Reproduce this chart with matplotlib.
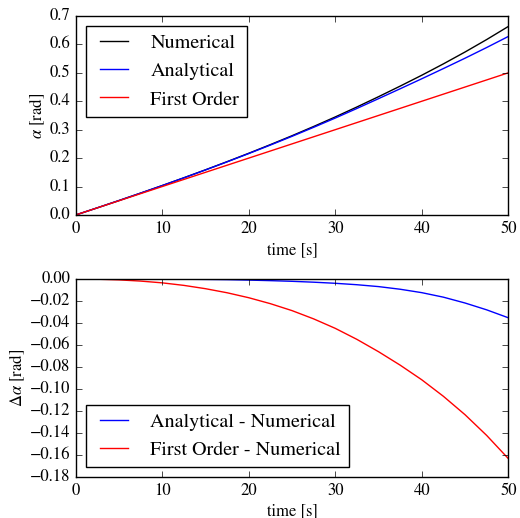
import matplotlib
matplotlib.use('Agg')
import matplotlib.pyplot as plt

plt.style.use('classic')
plt.rcParams['font.family'] = 'STIXGeneral'
plt.rcParams['mathtext.fontset'] = 'stix'

time = [0, 2.5, 5, 7.5, 10, 12.5, 15, 17.5, 20, 22.5, 25,
        27.5, 30, 32.5, 35, 37.5, 40, 42.5, 45, 47.5, 50]

numerical = [0.0, 0.0252, 0.0508, 0.0769, 0.1035, 0.1308, 0.1588, 0.1875,
             0.2170, 0.2474, 0.2787, 0.3112, 0.3448, 0.3798, 0.4160, 0.4532,
             0.4915, 0.5315, 0.5732, 0.6170, 0.6630]
analytical = [0.0, 0.0252, 0.0508, 0.0769, 0.1034, 0.1306, 0.1584, 0.1869,
              0.2160, 0.2459, 0.2766, 0.3083, 0.3409, 0.3746, 0.4091, 0.4439,
              0.4791, 0.5150, 0.5514, 0.5890, 0.6278]
first_order = [0.0, 0.025, 0.05, 0.075, 0.10, 0.125, 0.15, 0.175, 0.20, 0.225,
               0.25, 0.275, 0.30, 0.325, 0.35, 0.375, 0.40, 0.425, 0.45,
               0.475, 0.50]

diff_analytical = [0.0, 0.0, 0.0, 0.0, -0.0001, -0.0002, -0.0004, -0.0006,
                   -0.0010, -0.0015, -0.0021, -0.0029, -0.0039, -0.0052,
                   -0.0069, -0.0093, -0.0124, -0.0165, -0.0218, -0.0280,
                   -0.0352]
diff_first = [0.0, -0.0002, -0.0008, -0.0019, -0.0035, -0.0058, -0.0088,
              -0.0125, -0.0170, -0.0224, -0.0287, -0.0362, -0.0448, -0.0548,
              -0.0660, -0.0782, -0.0915, -0.1065, -0.1232, -0.1420, -0.1630]

fig = plt.figure(figsize=(5.2, 5.18), dpi=100, facecolor='white')

ax1 = fig.add_axes([0.1456, 0.585, 0.8319, 0.3842])
ax1.plot(time, numerical, color='k', label='Numerical')
ax1.plot(time, analytical, color='b', label='Analytical')
ax1.plot(time, first_order, color='r', label='First Order')
ax1.set_xlim(0, 50)
ax1.set_ylim(0, 0.7)
ax1.set_xlabel('time [s]', fontsize=12, labelpad=4)
ax1.set_ylabel(r'$\alpha$ [rad]', fontsize=12, labelpad=2)
ax1.tick_params(labelsize=12)
ax1.legend(loc='upper left', fontsize=14.5)

ax2 = fig.add_axes([0.1456, 0.0786, 0.8319, 0.3828])
ax2.plot(time, diff_analytical, color='b', label='Analytical - Numerical')
ax2.plot(time, diff_first, color='r', label='First Order - Numerical')
ax2.set_xlim(0, 50)
ax2.set_ylim(-0.18, 0.0)
ax2.set_xlabel('time [s]', fontsize=12, labelpad=3)
ax2.set_ylabel(r'$\Delta\alpha$ [rad]', fontsize=12, labelpad=2)
ax2.tick_params(labelsize=12)
ax2.legend(loc='lower left', fontsize=14.5)

fig.savefig('out.png', dpi=100, facecolor='white')
